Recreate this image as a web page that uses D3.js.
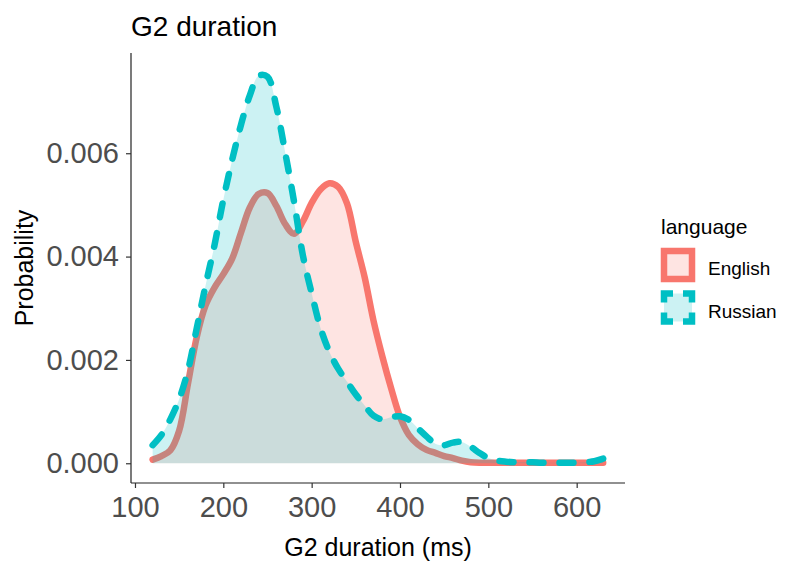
<!DOCTYPE html>
<head>
    <meta charset="utf-8">
    <title>G2 duration</title>
    <script src="https://cdn.jsdelivr.net/npm/d3@7"></script>
    <style>
        body { margin: 0; background: #fff; }
        svg { font-family: "Liberation Sans", Arial, sans-serif; }
    </style>
</head>
<body>
<div id="container"></div>

<script>

// Data
const durationMs = [120, 130, 140, 150, 160, 170, 180, 190, 200, 210, 220, 230, 240, 250, 260, 270,
                    280, 290, 300, 310, 320, 330, 340, 350, 360, 370, 380, 390, 400, 410, 420, 430,
                    440, 450, 460, 470, 480, 490, 500, 510, 520, 530, 540, 550, 560, 570, 580, 590,
                    600, 610, 620, 630];

const englishDensity = [0.00007, 0.00014, 0.00025, 0.00063, 0.00154, 0.00245, 0.00306, 0.00340,
                        0.00366, 0.00396, 0.00446, 0.00495, 0.00521, 0.00523, 0.00498, 0.00463,
                        0.00444, 0.00468, 0.00504, 0.00530, 0.00542, 0.00535, 0.00503, 0.00428,
                        0.00360, 0.00276, 0.00207, 0.00145, 0.00090, 0.00055, 0.00037, 0.00026,
                        0.00020, 0.00014, 0.00010, 0.00005, 0.00002, 0.00001, 0.00001, 0.00001,
                        0.00001, 0.00001, 0.00001, 0.00001, 0.00001, 0.00001, 0.00001, 0.00001,
                        0.00001, 0.00001, 0.00001, 0.00001];

const russianDensity = [0.00035, 0.00055, 0.00085, 0.00124, 0.00180, 0.00262, 0.00345, 0.00422,
                        0.00510, 0.00587, 0.00655, 0.00712, 0.00750, 0.00748, 0.00690, 0.00602,
                        0.00507, 0.00403, 0.00329, 0.00262, 0.00216, 0.00183, 0.00158, 0.00133,
                        0.00112, 0.00092, 0.00085, 0.00089, 0.00091, 0.00084, 0.00068, 0.00052,
                        0.00038, 0.00035, 0.00040, 0.00041, 0.00032, 0.00020, 0.00010, 0.00005,
                        0.00003, 0.00002, 0.00002, 0.00002, 0.00001, 0.00001, 0.00001, 0.00001,
                        0.00001, 0.00002, 0.00004, 0.00009];

const languages = ["English", "Russian"];
const colors = ["#F8766D", "#00BFC4"];
const xTicks = [100, 200, 300, 400, 500, 600];
const yTicks = [0, 0.002, 0.004, 0.006];

// Dimensions
const width = 787;
const height = 565;
const panelLeft = 131;
const panelRight = 625;
const panelTop = 53;
const panelBottom = 483;

const svg = d3.create("svg")
              .attr("width", width)
              .attr("height", height);

const x = d3.scaleLinear()
            .domain([95.5, 654.7])
            .range([panelLeft, panelRight]);

const y = d3.scaleLinear()
            .domain([-0.000382, 0.00794])
            .range([panelBottom, panelTop]);

const series = [
    {name: "English", values: englishDensity, color: colors[0], dash: null},
    {name: "Russian", values: russianDensity, color: colors[1], dash: "14,16"}
];

const area = d3.area()
               .x((d, i) => x(durationMs[i]))
               .y0(y(0))
               .y1(d => y(d))
               .curve(d3.curveCatmullRom);

const line = d3.line()
               .x((d, i) => x(durationMs[i]))
               .y(d => y(d))
               .curve(d3.curveCatmullRom);

// Chaque groupe : surface puis contour
series.forEach(s => {
    svg.append("path")
       .attr("d", area(s.values))
       .attr("fill", s.color)
       .attr("fill-opacity", 0.2);
    svg.append("path")
       .attr("d", line(s.values))
       .attr("fill", "none")
       .attr("stroke", s.color)
       .attr("stroke-width", 6.5)
       .attr("stroke-linecap", "round")
       .attr("stroke-linejoin", "round")
       .attr("stroke-dasharray", s.dash);
});

// Axes
const xAxis = svg.append("g")
                 .attr("transform", `translate(0,${panelBottom})`)
                 .call(d3.axisBottom(x).tickValues(xTicks).tickSize(5).tickPadding(8));
xAxis.select(".domain").attr("d", `M${panelLeft},0H${panelRight}`);

const yAxis = svg.append("g")
                 .attr("transform", `translate(${panelLeft},0)`)
                 .call(d3.axisLeft(y).tickValues(yTicks).tickFormat(d3.format(".3f")).tickSize(5).tickPadding(7));
yAxis.select(".domain").attr("d", `M0,${panelTop}V${panelBottom}`);

svg.selectAll(".domain")
   .attr("stroke", "#222")
   .attr("stroke-width", 1.2);
svg.selectAll(".tick line")
   .attr("stroke", "#333")
   .attr("stroke-width", 1.2);
svg.selectAll(".tick text")
   .attr("fill", "#4D4D4D")
   .style("font-size", "29px")
   .style("font-family", "'Liberation Sans', Arial, sans-serif");

// Titres
svg.append("text")
   .attr("x", panelLeft)
   .attr("y", 36)
   .style("font-size", "28px")
   .text("G2 duration");

svg.append("text")
   .attr("x", (panelLeft + panelRight) / 2)
   .attr("y", 556)
   .attr("text-anchor", "middle")
   .style("font-size", "25px")
   .text("G2 duration (ms)");

svg.append("text")
   .attr("transform", `translate(33,${(panelTop + panelBottom) / 2}) rotate(-90)`)
   .attr("text-anchor", "middle")
   .style("font-size", "25px")
   .text("Probability");

// Légende
const legend = svg.append("g")
                  .attr("transform", "translate(661,0)");

legend.append("text")
      .attr("x", 0)
      .attr("y", 234)
      .style("font-size", "21px")
      .text("language");

const keyY = [251, 293.5];

legend.selectAll("rect")
      .data(series)
      .enter().append("rect")
      .attr("x", 3)
      .attr("y", (d, i) => keyY[i])
      .attr("width", 28)
      .attr("height", 28)
      .attr("fill", d => d.color)
      .attr("fill-opacity", 0.2)
      .attr("stroke", d => d.color)
      .attr("stroke-width", 6.5)
      .attr("stroke-dasharray", d => d.dash ? "18,10" : null)
      .attr("stroke-dashoffset", d => d.dash ? 9 : null);

legend.selectAll("text.label")
      .data(languages)
      .enter().append("text")
      .attr("class", "label")
      .attr("x", 47)
      .attr("y", (d, i) => keyY[i] + 24)
      .style("font-size", "19px")
      .text(d => d);

container.append(svg.node());

</script>
</body>
